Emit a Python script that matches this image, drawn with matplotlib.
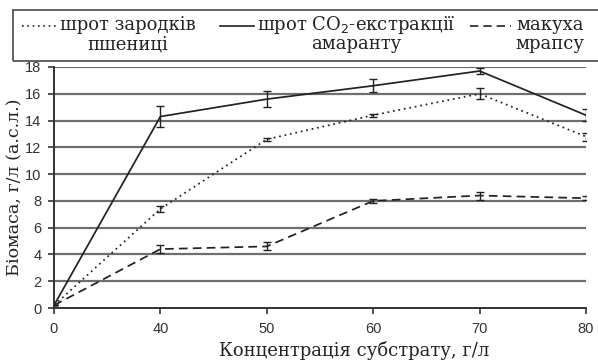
import matplotlib
matplotlib.use("Agg")
import matplotlib.pyplot as plt
from matplotlib.patches import Rectangle
from matplotlib.lines import Line2D
import numpy as np

categories = ["0", "40", "50", "60", "70", "80"]
wheat = [0.2, 7.4, 12.6, 14.4, 16.0, 12.8]
wheat_err = [0.0, 0.25, 0.12, 0.1, 0.4, 0.3]
amaranth = [0.2, 14.3, 15.6, 16.6, 17.7, 14.4]
amaranth_err = [0.0, 0.75, 0.6, 0.5, 0.2, 0.45]
rapeseed = [0.2, 4.4, 4.6, 8.0, 8.4, 8.2]
rapeseed_err = [0.0, 0.3, 0.3, 0.15, 0.3, 0.15]
labels_top = ["шрот зародків", "шрот CO$_2$-екстракції", "макуха"]
labels_bottom = ["пшениці", "амаранту", "мрапсу"]
yticks = [0, 2, 4, 6, 8, 10, 12, 14, 16, 18]

W, H = 598, 361
fig = plt.figure(figsize=(W / 100, H / 100), dpi=100)
x0, x1 = 54, 586
y0, y1 = 308, 67
ax = fig.add_axes([x0 / W, 1 - y0 / H, (x1 - x0) / W, (y0 - y1) / H])

x = np.arange(len(categories))
col = "#222222"
serif = "DejaVu Serif"
styles = [(0, (1, 2.2)), "-", (0, (5, 3))]

for yv in yticks[1:]:
    ax.axhline(yv, color="#6e6e6e", lw=1.6, zorder=1)

for vals, errs, ls in zip([wheat, amaranth, rapeseed],
                          [wheat_err, amaranth_err, rapeseed_err], styles):
    ax.errorbar(x, vals, yerr=errs, color=col, lw=1.25, ls=ls,
                capsize=3, elinewidth=1.0, capthick=1.0, zorder=3)

ax.set_xlim(0, len(categories) - 1)
ax.set_ylim(0, 18)
ax.set_xticks(x)
ax.set_xticklabels(categories)
ax.set_yticks(yticks)
for s in ["top", "right"]:
    ax.spines[s].set_visible(False)
for s in ["left", "bottom"]:
    ax.spines[s].set_color("#333333")
    ax.spines[s].set_linewidth(1.4)
ax.tick_params(axis="both", labelsize=10.5, colors="#333333", labelcolor="#333333",
               length=4, width=1.2)
ax.tick_params(axis="x", direction="out", pad=6)
ax.tick_params(axis="y", pad=5)
for t in ax.get_xticklabels() + ax.get_yticklabels():
    t.set_family("Liberation Sans")

fig.text(15 / W, 1 - 187 / H, "Біомаса, г/л (а.с.л.)", rotation=90, ha="center",
         va="center", fontsize=12.6, family=serif, color="#222222")
fig.text(354 / W, 1 - 350 / H, "Концентрація субстрату, г/л", ha="center",
         va="center", fontsize=13, family=serif, color="#222222")

# legend frame (clipped on the right like the reference)
fig.add_artist(Rectangle((13 / W, 1 - 61 / H), 1.2, (61 - 10) / H, transform=fig.transFigure,
                         fill=False, edgecolor="#555555", lw=1.3, clip_on=False))

renderer = fig.canvas.get_renderer()
handle_x = [(22, 58), (220, 254), (470, 511)]
text_x = [60, 257, 516]
for (hx0, hx1), tx, ls, top, bot in zip(handle_x, text_x, styles, labels_top, labels_bottom):
    fig.add_artist(Line2D([hx0 / W, hx1 / W], [1 - 26 / H, 1 - 26 / H],
                          transform=fig.transFigure, color=col, lw=1.2, ls=ls))
    t1 = fig.text(tx / W, 1 - 30 / H, top, ha="left", va="baseline",
                  fontsize=13.0, family=serif, color="#222222")
    bb = t1.get_window_extent(renderer)
    cx = (bb.x0 + bb.x1) / 2 / W
    fig.text(cx, 1 - 49 / H, bot, ha="center", va="baseline",
             fontsize=13.0, family=serif, color="#222222")

fig.savefig("out.png", dpi=100)
